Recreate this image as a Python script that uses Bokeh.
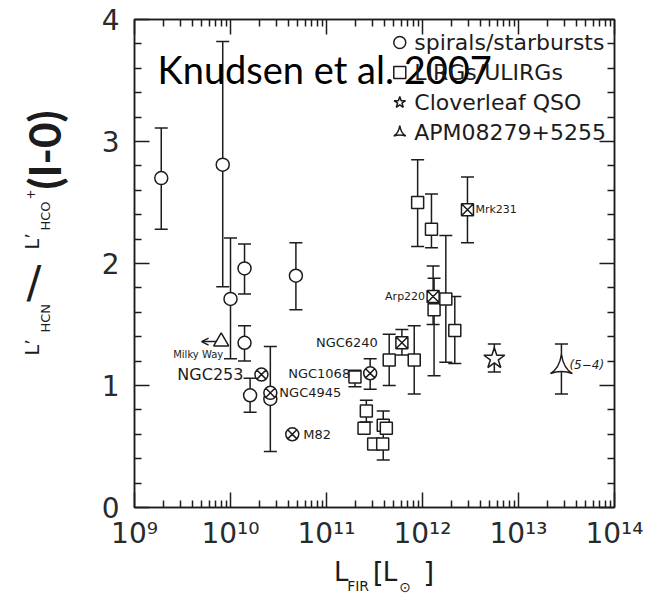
from math import pi

from bokeh.embed import file_html
from bokeh.layouts import column, row
from bokeh.models import (
    Arrow, ColumnDataSource, CustomJSTickFormatter, FixedTicker, Label, Legend,
    LegendItem, LinearAxis, LogAxis, OpenHead, Range1d, TeeHead, Whisker,
)
from bokeh.plotting import figure
from bokeh.resources import INLINE

# ---------------------------------------------------------------- data
# Far-infrared luminosity [L_sun] and HCN/HCO+ (1-0) line-luminosity ratio

# spirals / starbursts
spiral_lfir = [1.9e9, 8.3e9, 1.0e10, 1.4e10, 4.8e10, 1.4e10, 1.6e10, 2.6e10]
spiral_ratio = [2.70, 2.81, 1.71, 1.96, 1.90, 1.35, 0.92, 0.89]
spiral_lo = [2.28, 1.81, 1.22, 1.75, 1.62, 1.20, 0.78, 0.46]
spiral_hi = [3.11, 3.82, 2.21, 2.16, 2.17, 1.49, 1.06, 1.32]

# named spirals / starbursts
named_spiral = ["NGC253", "NGC4945", "M82", "NGC1068"]
named_spiral_lfir = [2.1e10, 2.6e10, 4.4e10, 2.85e11]
named_spiral_ratio = [1.09, 0.94, 0.60, 1.10]
named_spiral_lo = [None, None, None, 0.97]
named_spiral_hi = [None, None, None, 1.22]

# LIRGs / ULIRGs
lirg_lfir = [1.98e11, 2.6e11, 2.46e11, 3.1e11, 3.9e11, 4.2e11, 3.85e11,
             4.5e11, 8.2e11, 8.9e11, 1.24e12, 1.32e12, 1.75e12, 2.17e12]
lirg_ratio = [1.07, 0.79, 0.65, 0.52, 0.675, 0.65, 0.52,
              1.21, 1.21, 2.50, 2.28, 1.62, 1.71, 1.45]
lirg_lo = [0.99, 0.70, None, None, 0.39, None, None,
           1.00, 0.93, 2.14, 2.13, 1.08, 1.19, 1.18]
lirg_hi = [1.125, 0.88, None, None, 0.79, None, None,
           1.42, 1.49, 2.85, 2.57, 1.88, 2.23, 1.73]

# named LIRGs / ULIRGs
named_lirg = ["NGC6240", "Arp220", "Mrk231"]
named_lirg_lfir = [6.1e11, 1.29e12, 2.94e12]
named_lirg_ratio = [1.35, 1.73, 2.44]
named_lirg_lo = [1.25, 1.50, 2.17]
named_lirg_hi = [1.46, 1.98, 2.71]

# Cloverleaf QSO
clover_lfir = [5.6e12]
clover_ratio = [1.22]
clover_lo = [1.11]
clover_hi = [1.34]

# APM08279+5255, HCN/HCO+ (5-4)
apm_lfir = [2.8e13]
apm_ratio = [1.15]
apm_lo = [0.93]
apm_hi = [1.34]

# Milky Way (upper limit in L_FIR)
mw_lfir = [8.0e9]
mw_ratio = [1.36]

x_major = [1e9, 1e10, 1e11, 1e12, 1e13, 1e14]
y_major = [0, 1, 2, 3, 4]

INK = "#1c1c1c"
FONT = "DejaVu Sans"
LW = 1.5

# page layout: a strip on the left for the y title, the plot, a strip below it
LEFT_W, PLOT_W, PLOT_H, TOTAL_H = 80, 580, 558, 596
BOTTOM_H = TOTAL_H - PLOT_H

# ---------------------------------------------------------------- main plot
p = figure(
    width=PLOT_W, height=PLOT_H, x_axis_type="log",
    x_axis_location=None, y_axis_location=None,
    x_range=Range1d(1e9, 1e14), y_range=Range1d(0, 4),
    output_backend="svg", toolbar_location=None,
    min_border_left=134 - LEFT_W, min_border_right=46, min_border_top=19,
    min_border_bottom=51,
)
p.grid.visible = False
p.outline_line_color = INK
p.outline_line_width = LW
p.background_fill_color = "white"
p.border_fill_color = "white"

x_minor = [m * d for d in x_major[:-1] for m in range(2, 10)]
y_minor = [round(0.2 * i, 1) for i in range(21) if i % 5]

exp_fmt = CustomJSTickFormatter(code="""
    const sup = {"0":"\u2070","1":"\u00b9","2":"\u00b2","3":"\u00b3","4":"\u2074",
                 "5":"\u2075","6":"\u2076","7":"\u2077","8":"\u2078","9":"\u2079"};
    const e = Math.round(Math.log10(tick));
    return "10" + String(e).split("").map(c => sup[c]).join("");
""")


def style_axis(ax, labelled):
    ax.axis_line_color = INK
    ax.axis_line_width = LW
    ax.major_tick_line_color = INK
    ax.minor_tick_line_color = INK
    ax.major_tick_line_width = LW
    ax.minor_tick_line_width = LW
    ax.major_tick_in = 15
    ax.major_tick_out = 0
    ax.minor_tick_in = 7
    ax.minor_tick_out = 0
    if labelled:
        ax.major_label_text_font = FONT
        ax.major_label_text_font_size = "28px"
        ax.major_label_text_color = "#2a2a2a"
    else:
        ax.major_label_text_font_size = "1px"
        ax.major_label_text_alpha = 0
        ax.major_label_standoff = 0


for side in ("below", "above"):
    ax = LogAxis(ticker=FixedTicker(ticks=x_major, minor_ticks=x_minor))
    style_axis(ax, side == "below")
    if side == "below":
        ax.formatter = exp_fmt
        ax.major_label_standoff = 9
    p.add_layout(ax, side)

for side in ("left", "right"):
    ax = LinearAxis(ticker=FixedTicker(ticks=y_major, minor_ticks=y_minor))
    style_axis(ax, side == "left")
    if side == "left":
        ax.major_label_standoff = 15
    p.add_layout(ax, side)


# ---------------------------------------------------------------- error bars
def bars(lfir, lo, hi):
    keep = [i for i in range(len(lfir)) if lo[i] is not None]
    src = ColumnDataSource(dict(x=[lfir[i] for i in keep],
                                lo=[lo[i] for i in keep],
                                hi=[hi[i] for i in keep]))
    w = Whisker(source=src, base="x", lower="lo", upper="hi", dimension="height",
                line_color=INK, line_width=LW,
                upper_head=TeeHead(size=13, line_color=INK, line_width=LW),
                lower_head=TeeHead(size=13, line_color=INK, line_width=LW))
    p.add_layout(w)


bars(spiral_lfir, spiral_lo, spiral_hi)
bars(named_spiral_lfir, named_spiral_lo, named_spiral_hi)
bars(lirg_lfir, lirg_lo, lirg_hi)
bars(named_lirg_lfir, named_lirg_lo, named_lirg_hi)
bars(clover_lfir, clover_lo, clover_hi)
bars(apm_lfir, apm_lo, apm_hi)

# Milky Way upper limit arrow
p.add_layout(Arrow(x_start=mw_lfir[0], y_start=mw_ratio[0],
                   x_end=mw_lfir[0] / 1.6, y_end=mw_ratio[0],
                   line_color=INK, line_width=LW, level="underlay",
                   end=OpenHead(size=7, line_color=INK, line_width=LW)))

# ---------------------------------------------------------------- markers
mk = dict(line_color=INK, line_width=LW, fill_color="white")
r_sp = p.scatter(spiral_lfir, spiral_ratio, marker="circle", size=13, **mk)
p.scatter(named_spiral_lfir, named_spiral_ratio, marker="circle_x", size=13, **mk)
r_li = p.scatter(lirg_lfir, lirg_ratio, marker="square", size=12, **mk)
p.scatter(named_lirg_lfir, named_lirg_ratio, marker="square_x", size=12, **mk)
r_cl = p.scatter(clover_lfir, clover_ratio, marker="star", size=22, **mk)
r_apm = p.scatter(apm_lfir, apm_ratio, marker="triangle_pin", size=22, **mk)
p.scatter(mw_lfir, mw_ratio, marker="triangle", size=15, **mk)


# ---------------------------------------------------------------- source names
def tag(x, y, text, dx, dy=0, size="13px", align="left", style="normal"):
    p.add_layout(Label(x=x, y=y, text=text, x_offset=dx, y_offset=dy,
                       text_align=align, text_baseline="middle",
                       text_font=FONT, text_font_size=size,
                       text_font_style=style, text_color=INK))


spiral_tag = {"NGC253": (-18, 0, "16px", "right"),
              "NGC4945": (9, 0, "13px", "left"),
              "M82": (11, 0, "13px", "left"),
              "NGC1068": (-20, 0, "13px", "right")}
for n, x, y in zip(named_spiral, named_spiral_lfir, named_spiral_ratio):
    dx, dy, s, a = spiral_tag[n]
    tag(x, y, n, dx, dy, s, a)

lirg_tag = {"NGC6240": (-24, 0, "13px", "right"),
            "Arp220": (-8, 0, "11px", "right"),
            "Mrk231": (8, 0, "11px", "left")}
for n, x, y in zip(named_lirg, named_lirg_lfir, named_lirg_ratio):
    dx, dy, s, a = lirg_tag[n]
    tag(x, y, n, dx, dy, s, a)

tag(apm_lfir[0], apm_ratio[0], "(5\u22124)", 8, 2, "12px", "left", "italic")
tag(mw_lfir[0], mw_ratio[0], "Milky Way", -23, -13, "10px", "center")

# ---------------------------------------------------------------- legend
legend = Legend(
    items=[LegendItem(label="spirals/starbursts", renderers=[r_sp]),
           LegendItem(label="LIRGs/ULIRGs", renderers=[r_li]),
           LegendItem(label="Cloverleaf QSO", renderers=[r_cl]),
           LegendItem(label="APM08279+5255", renderers=[r_apm])],
    location="top_right", margin=8, padding=9, spacing=0,
    glyph_width=30, glyph_height=30, label_height=30, label_standoff=-7,
    label_text_font=FONT, label_text_font_size="22px", label_text_color=INK,
    border_line_color=None, background_fill_alpha=0,
)
p.add_layout(legend)

p.add_layout(Label(x=157 - 134, y=507.3 - 69, x_units="screen", y_units="screen",
                   text="Knudsen et al. 2007", text_align="left",
                   text_baseline="alphabetic", text_font="Lato",
                   text_font_size="38px", text_color="black"))


# ---------------------------------------------------------------- title strips
def strip(w, h):
    f = figure(width=w, height=h, x_range=Range1d(0, w), y_range=Range1d(0, h),
               x_axis_location=None, y_axis_location=None,
               output_backend="svg", toolbar_location=None,
               min_border=0, min_border_left=0, min_border_right=0,
               min_border_top=0, min_border_bottom=0)
    f.grid.visible = False
    f.outline_line_color = None
    f.background_fill_color = "white"
    f.border_fill_color = "white"
    return f


def put(f, x, y, text, size, font=FONT, style="normal", angle=0.0):
    f.add_layout(Label(x=x, y=y, text=text, angle=angle, text_align="left",
                       text_baseline="alphabetic", text_font=font,
                       text_font_size=size, text_font_style=style,
                       text_color=INK))


# y title: L'_HCN / L'_HCO+ (1-0), reading bottom to top
yl = strip(LEFT_W, TOTAL_H)
up = pi / 2
put(yl, 31, TOTAL_H - 355, "L\u2019", "19px", angle=up)
put(yl, 45, TOTAL_H - 332, "HCN", "13px", angle=up)
put(yl, 26, TOTAL_H - 282, "/", "44px")
put(yl, 31, TOTAL_H - 249, "L\u2019", "19px", angle=up)
put(yl, 45, TOTAL_H - 230, "HCO", "13px", angle=up)
put(yl, 30, TOTAL_H - 199, "+", "12px", angle=up)
put(yl, 43, TOTAL_H - 189, "(I-0)", "44px", font="Lato", style="bold", angle=up)

# x title: L_FIR [L_sun]
xl = strip(PLOT_W, BOTTOM_H)
ox = LEFT_W
put(xl, 321 - ox, TOTAL_H - 571, "L", "26px")
put(xl, 337 - ox, TOTAL_H - 585, "FIR", "14px")
put(xl, 368 - ox, TOTAL_H - 573, "[", "28px")
put(xl, 380 - ox, TOTAL_H - 571, "L", "26px")
put(xl, 400 - ox, TOTAL_H - 586, "\u2299", "14px")
put(xl, 429 - ox, TOTAL_H - 573, "]", "28px")

page = row(yl, column(p, xl, spacing=0), spacing=0)
open("out.html", "w").write(file_html(page, INLINE))
